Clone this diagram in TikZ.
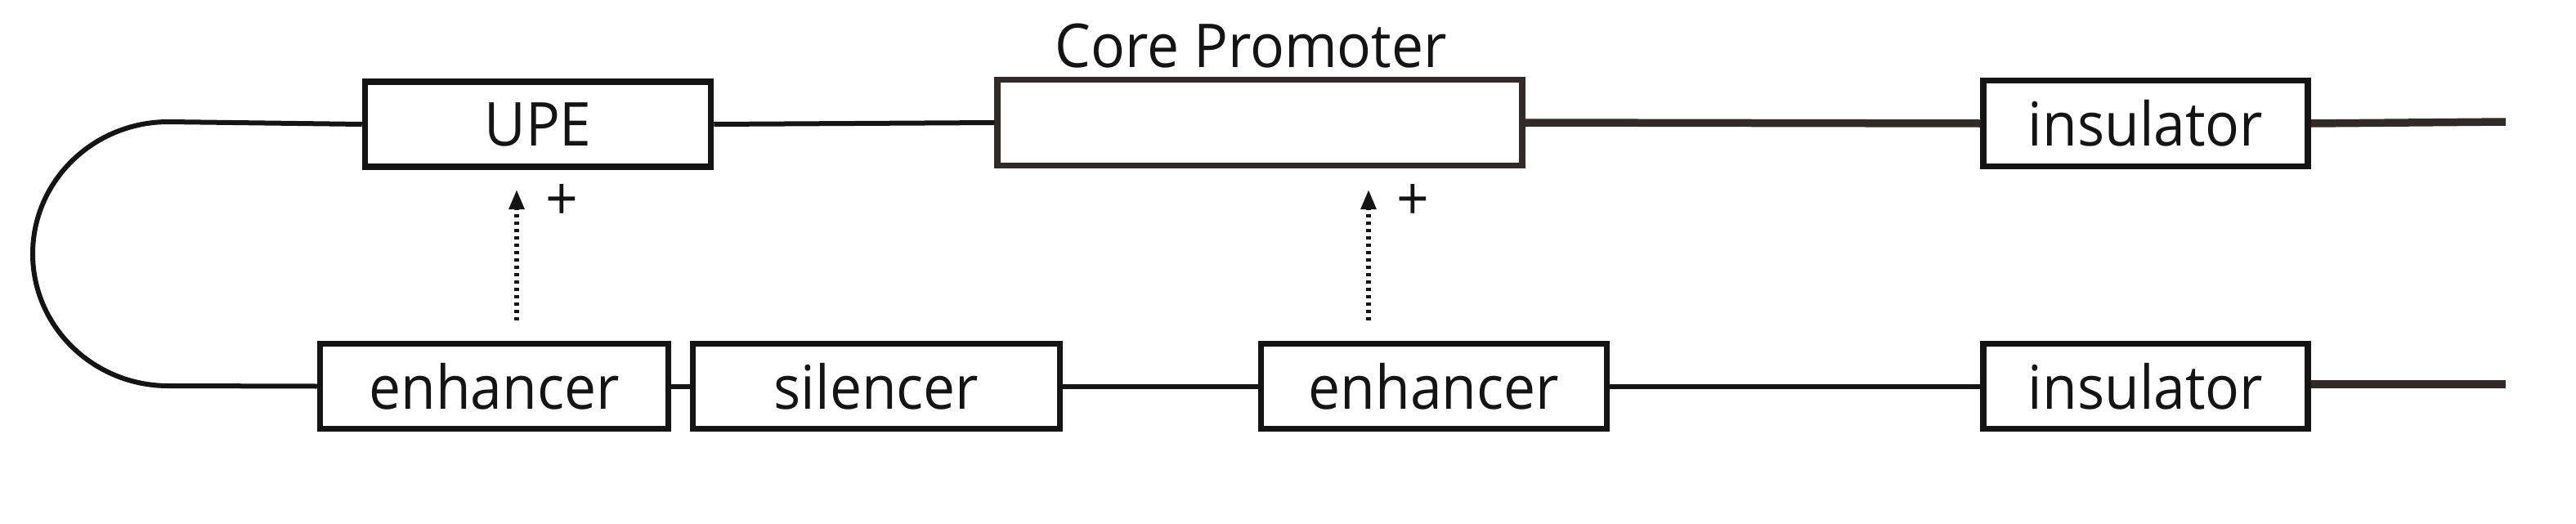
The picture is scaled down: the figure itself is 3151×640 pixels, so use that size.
\documentclass[tikz,border=0pt]{standalone}
\usepackage{fontspec}
\setmainfont{Open Sans}[FakeStretch=0.94]
\usetikzlibrary{arrows.meta}
\definecolor{ink}{RGB}{20,20,20}
\definecolor{brown}{RGB}{50,42,41}
\begin{document}
\begin{tikzpicture}[x=1pt,y=-1pt,
  box/.style={draw=ink,line width=7.5pt,fill=white,rectangle,inner sep=0pt,
    text=ink,font=\fontsize{74}{88}\selectfont},
  thin/.style={draw=ink,line width=6pt},
  thick/.style={draw=brown,line width=9.5pt},
  act/.style={draw=ink,line width=5.5pt,dash pattern=on 4.5pt off 4.5pt,
    -{Triangle[length=24pt,width=18pt]}},
  lbl/.style={text=ink,font=\fontsize{74}{88}\selectfont,inner sep=0pt}]
\useasboundingbox (0,0) rectangle (3151,640);
% nodes
\node[box,minimum width=423pt,minimum height=104pt] (upe) at (658,152) {UPE};
\node[box,draw=brown,minimum width=642pt,minimum height=105pt] (core) at (1541,150) {};
\node[box,minimum width=397pt,minimum height=105pt] (ins1) at (2624.5,151) {insulator};
\node[box,minimum width=426pt,minimum height=104pt] (enh1) at (604.5,472.5) {enhancer};
\node[box,minimum width=449pt,minimum height=104pt] (sil) at (1072,472.5) {silencer};
\node[box,minimum width=423pt,minimum height=104pt] (enh2) at (1754,472.5) {enhancer};
\node[box,minimum width=397pt,minimum height=104pt] (ins2) at (2624.5,472.5) {insulator};
\node[lbl] (corelbl) at (1530,56) {Core Promoter};
% free ends
\coordinate (ltop) at (206,149);
\coordinate (lbot) at (206,472);
\coordinate (rtop) at (3065,149);
\coordinate (rbot) at (3065,470);
% connectors
\draw[thin] (upe.west) -- (ltop) arc[start angle=90,end angle=270,x radius=166pt,y radius=161.5pt] -- (enh1.west);
\draw[thin] (upe.east) -- (core.west);
\draw[thick] (core.east) -- (ins1.west);
\draw[thick] (ins1.east) -- (rtop);
\draw[thin] (enh1.east) -- (sil.west);
\draw[thin] (sil.east) -- (enh2.west);
\draw[thin] (enh2.east) -- (ins2.west);
\draw[thick] (ins2.east|-rbot) -- (rbot);
% activation arrows
\coordinate (a1s) at (632,392);
\coordinate (a1e) at (632,232);
\coordinate (a2s) at (1674,392);
\coordinate (a2e) at (1674,232);
\draw[act] (a1s) -- (a1e);
\draw[act] (a2s) -- (a2e);
\node[lbl] (p1) at (687,247) {+};
\node[lbl] (p2) at (1728,247) {+};
\end{tikzpicture}
\end{document}
